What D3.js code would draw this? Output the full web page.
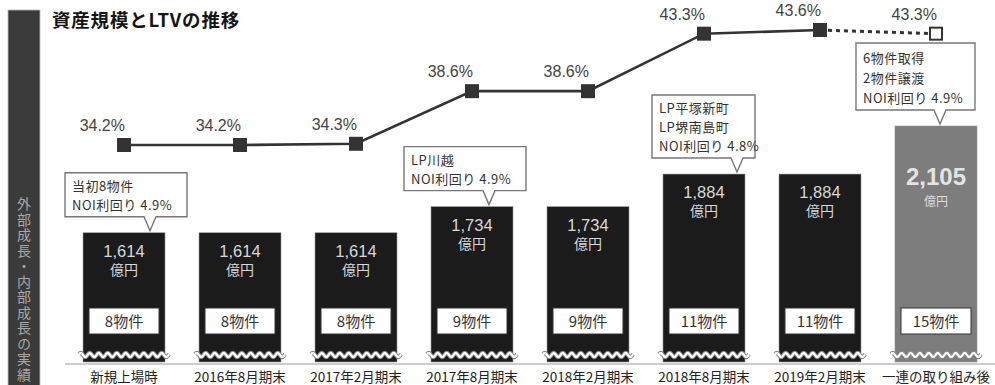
<!DOCTYPE html>
<html lang="ja">
<head>
<meta charset="utf-8">
<script src="https://cdn.jsdelivr.net/npm/d3@7"></script>
<style>
  html, body { margin: 0; padding: 0; background: #fff; }
  svg { display: block; font-family: "Noto Sans CJK JP", "Noto Sans", sans-serif; }
</style>
</head>
<body>
<svg id="chart" width="995" height="385"></svg>
<script>
// ---- data ----
const categories = ['新規上場時', '2016年8月期末', '2017年2月期末', '2017年8月期末',
                    '2018年2月期末', '2018年8月期末', '2019年2月期末', '一連の取り組み後'];
const assets = [1614, 1614, 1614, 1734, 1734, 1884, 1884, 2105];      // 億円
const ltv = [34.2, 34.2, 34.3, 38.6, 38.6, 43.3, 43.6, 43.3];          // %
const propertyCounts = [8, 8, 8, 9, 9, 11, 11, 15];
const isProjection = [false, false, false, false, false, false, false, true];
const calloutIndex = [0, 3, 5, 7];
const calloutLines = [
  ['当初8物件', 'NOI利回り 4.9%'],
  ['LP川越', 'NOI利回り 4.9%'],
  ['LP平塚新町', 'LP堺南島町', 'NOI利回り 4.8%'],
  ['6物件取得', '2物件譲渡', 'NOI利回り 4.9%']
];
const title = '資産規模とLTVの推移';
const sideLabel = '外部成長・内部成長の実績';

// ---- layout ----
const svg = d3.select('#chart');
const baseY = 364;
const numFont = '"Liberation Sans", Arial, sans-serif';

const x = d3.scaleBand().domain(categories).range([66, 994])
  .paddingInner(0.293).paddingOuter(0.1466);
const y = d3.scaleLinear().domain([1010, 2105]).range([baseY, 126]);
const yL = d3.scaleLinear().domain([34.2, 43.6]).range([145, 30]);
const cx = i => x(categories[i]) + x.bandwidth() / 2;

// side strip with vertical caption
svg.append('rect').attr('x', 8).attr('y', 10).attr('width', 32).attr('height', 380)
  .attr('fill', '#3b3b3b').attr('stroke', '#bbb').attr('stroke-width', 0.8);
svg.append('text').attr('x', 24).attr('y', 197)
  .attr('writing-mode', 'vertical-rl').style('writing-mode', 'vertical-rl')
  .attr('font-size', 14).attr('letter-spacing', 1.5).attr('fill', '#a8a8a8')
  .text(sideLabel);

// title
svg.append('text').attr('x', 52).attr('y', 27)
  .attr('font-size', 18.5).attr('font-weight', 'bold').attr('fill', '#151515')
  .attr('letter-spacing', 0.8)
  .text(title);

// bars
const bars = svg.append('g');
assets.forEach((v, i) => {
  const x0 = x(categories[i]), w = x.bandwidth();
  const top = y(v);
  const proj = isProjection[i];
  bars.append('rect').attr('x', x0).attr('y', top).attr('width', w).attr('height', baseY - 2 - top)
    .attr('fill', proj ? '#7d7d7d' : '#1b1b1b').attr('stroke', '#9a9a9a').attr('stroke-width', 0.6);

  const vText = d3.format(',')(v);
  if (proj) {
    bars.append('text').attr('x', cx(i)).attr('y', top + 59).attr('text-anchor', 'middle')
      .attr('font-family', numFont).attr('font-size', 24).attr('font-weight', 'bold')
      .attr('fill', '#e4e4e4').text(vText);
    bars.append('text').attr('x', cx(i)).attr('y', top + 80).attr('text-anchor', 'middle')
      .attr('font-size', 12).attr('fill', '#dcdcdc').text('億円');
  } else {
    bars.append('text').attr('x', cx(i)).attr('y', top + 24).attr('text-anchor', 'middle')
      .attr('font-family', numFont).attr('font-size', 16.5).attr('fill', '#d8d8d8').text(vText);
    bars.append('text').attr('x', cx(i)).attr('y', top + 42).attr('text-anchor', 'middle')
      .attr('font-size', 14).attr('fill', '#d8d8d8').text('億円');
  }

  // property count badge
  bars.append('rect').attr('x', x0 + 6).attr('y', 308).attr('width', w - 12).attr('height', 26)
    .attr('fill', '#fff').attr('stroke', '#333').attr('stroke-width', 1);
  bars.append('text').attr('x', cx(i)).attr('y', 327).attr('text-anchor', 'middle')
    .attr('font-size', 15).attr('fill', '#333').text(propertyCounts[i] + '物件');

  // axis break wave
  const pts = d3.range(x0 - 4, x0 + w + 4.01, 0.75).map(px => [px, 355 + 2 * Math.sin((px - x0) / 9 * 2 * Math.PI)]);
  const wave = d3.line()(pts);
  bars.append('path').attr('d', wave).attr('fill', 'none').attr('stroke', '#8a8a8a').attr('stroke-width', 4.2);
  bars.append('path').attr('d', wave).attr('fill', 'none').attr('stroke', '#fff').attr('stroke-width', 2.2);
});

// baseline and category labels
svg.append('line').attr('x1', 65).attr('x2', 995).attr('y1', baseY).attr('y2', baseY)
  .attr('stroke', '#9a9a9a').attr('stroke-width', 1.2);
categories.forEach((c, i) => {
  svg.append('text').attr('x', cx(i)).attr('y', 382).attr('text-anchor', 'middle')
    .attr('font-size', 13.5).attr('fill', '#222').text(c);
});

// LTV line
const actualIdx = d3.range(ltv.length).filter(i => !isProjection[i]);
const lineGen = d3.line().x(i => cx(i)).y(i => yL(ltv[i]));
svg.append('path').attr('d', lineGen(actualIdx)).attr('fill', 'none')
  .attr('stroke', '#333').attr('stroke-width', 2.6);
const lastActual = actualIdx[actualIdx.length - 1];
d3.range(ltv.length).filter(i => isProjection[i]).forEach(i => {
  svg.append('path').attr('d', lineGen([lastActual, i])).attr('fill', 'none')
    .attr('stroke', '#333').attr('stroke-width', 3).attr('stroke-dasharray', '4,4');
});
ltv.forEach((v, i) => {
  const s = isProjection[i] ? 12 : 14;
  svg.append('rect').attr('x', cx(i) - s / 2).attr('y', yL(v) - s / 2).attr('width', s).attr('height', s)
    .attr('fill', isProjection[i] ? '#fff' : '#333').attr('stroke', '#333')
    .attr('stroke-width', isProjection[i] ? 2 : 0);
  svg.append('text').attr('x', cx(i) + 1).attr('y', yL(v) - 14).attr('text-anchor', 'end')
    .attr('font-family', numFont).attr('font-size', 16).attr('fill', '#444').text(v.toFixed(1) + '%');
});

// callouts (box offsets relative to the bar centre)
const calloutLayout = [
  { left: -59, width: 122, tip: 26, lh: 19, first: 18 },
  { left: -68, width: 122, tip: 17, lh: 19, first: 18 },
  { left: -52, width: 103, tip: 33, lh: 19, first: 18 },
  { left: -80, width: 119, tip: 4, lh: 20, first: 20 }
];
calloutIndex.forEach((bi, k) => {
  const L = calloutLayout[k];
  const lines = calloutLines[k];
  const top = y(assets[bi]);
  const tipY = top - 2;
  const bottom = top - 16;
  const h = L.first + (lines.length - 1) * L.lh + 7;
  const boxTop = bottom - h;
  const x0 = cx(bi) + L.left, x1 = x0 + L.width;
  const tx = cx(bi) + L.tip;
  const p = d3.path();
  p.moveTo(x0, boxTop); p.lineTo(x1, boxTop); p.lineTo(x1, bottom);
  p.lineTo(tx + 6, bottom); p.lineTo(tx, tipY); p.lineTo(tx - 6, bottom);
  p.lineTo(x0, bottom); p.closePath();
  svg.append('path').attr('d', p.toString()).attr('fill', '#fff')
    .attr('stroke', '#777').attr('stroke-width', 1.4).attr('stroke-linejoin', 'miter');
  lines.forEach((t, j) => {
    svg.append('text').attr('x', x0 + 7).attr('y', boxTop + L.first + j * L.lh)
      .attr('font-size', 13).attr('letter-spacing', 0.5).attr('fill', '#333').text(t);
  });
});
</script>
</body>
</html>
